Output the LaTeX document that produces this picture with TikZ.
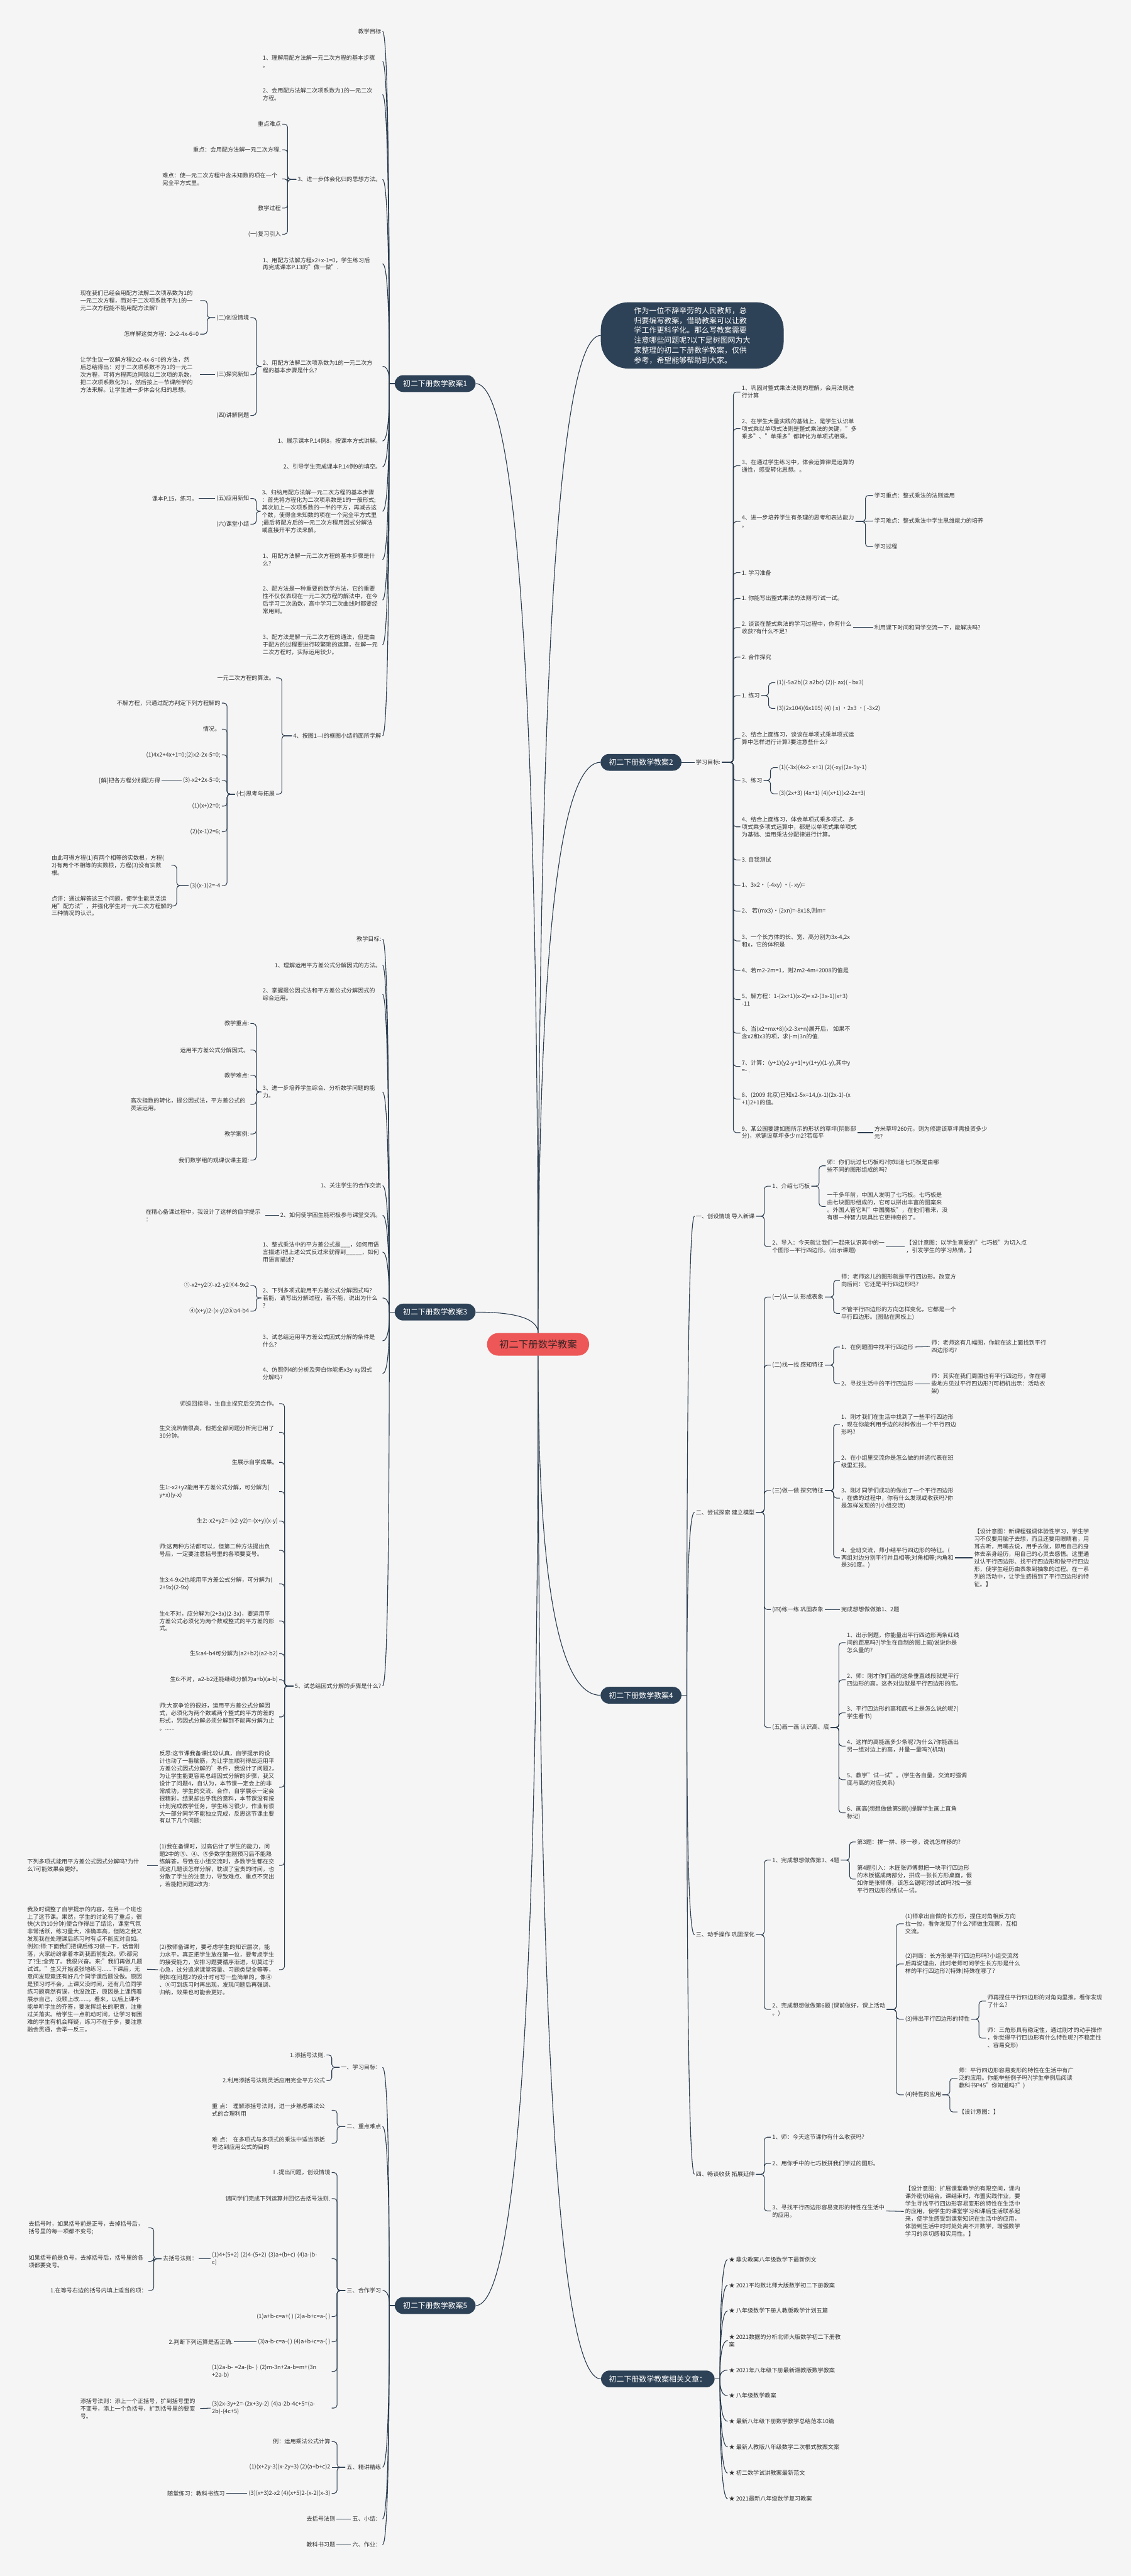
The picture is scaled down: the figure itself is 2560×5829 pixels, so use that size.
\documentclass[tikz,border=0pt]{standalone}
\usepackage{fontspec}
\setmainfont{Noto Sans CJK SC}
\usetikzlibrary{calc}
\definecolor{bgc}{HTML}{F5F5F5}
\definecolor{linec}{HTML}{2C3D50}
\definecolor{nodec}{HTML}{2E4257}
\definecolor{rootc}{HTML}{EE5757}
\definecolor{roottxt}{HTML}{3A2424}
\definecolor{txtc}{HTML}{333333}
\newcommand\fs{\fontsize{13}{17}\selectfont}
\newcommand\bl[3]{\draw[brk] (#1.west) -- (#1.west -| #2) |- (#3.east);}
\newcommand\br[3]{\draw[brk] (#1.east) -- (#1.east -| #2) |- (#3.west);}
\newcommand\cv[2]{\draw[crv] (#1) .. controls ($(#1)!0.667!(#1 |- #2)$) and ($(#2)!0.667!(#1 |- #2)$) .. (#2);}
\tikzset{
  tx/.style={font=\fs, text=txtc, inner xsep=3pt, inner ysep=2pt},
  lnode/.style={tx, anchor=east, align=left},
  lnodew/.style={tx, anchor=east, align=left, text width=#1pt},
  rnode/.style={tx, anchor=west, align=left},
  lvl/.style={fill=nodec, text=white, rounded corners=19pt, minimum width=183pt, minimum height=38pt, font=\fontsize{17}{20}\selectfont, inner sep=0pt},
  rootn/.style={fill=rootc, text=roottxt, rounded corners=25pt, minimum width=231pt, minimum height=51pt, font=\fontsize{22}{26}\selectfont, inner sep=0pt},
  intro/.style={fill=nodec, text=white, rounded corners=62pt, minimum width=414pt, minimum height=150pt, font=\fontsize{17}{22.4}\selectfont, align=left, inner sep=0pt},
  brk/.style={draw=linec, line width=1.5pt, rounded corners=7pt},
  crv/.style={draw=linec, line width=1.6pt}
}
\begin{document}
\begin{tikzpicture}[x=1pt,y=-1pt]
\useasboundingbox (0,0) rectangle (2560,5829);
\fill[bgc] (0,0) rectangle (2560,5829);
% ===== centre and level 1 =====
\node[rootn] (c) at (1218,3042) {初二下册数学教案};
\node[lvl] (n1) at (985,868) {初二下册数学教案1};
\node[lvl] (n3) at (985,2969) {初二下册数学教案3};
\node[lvl] (n5) at (985,5217) {初二下册数学教案5};
\node[lvl] (n2) at (1451,1725) {初二下册数学教案2};
\node[lvl] (n4) at (1451,3836) {初二下册数学教案4};
\node[lvl, minimum width=257pt] (n6) at (1489,5383) {初二下册数学教案相关文章：};
\node[intro] (it) at (1567,759) {作为一位不辞辛劳的人民教师，总\\归要编写教案，借助教案可以让教\\学工作更科学化。那么写教案需要\\注意哪些问题呢?以下是树图网为大\\家整理的初二下册数学教案，仅供\\参考，希望能够帮助到大家。};

% ===== branch 1 =====
\node[lnode] (a1) at (866,71) {教学目标};
\node[lnodew=268] (a2) at (866,139) {1、理解用配方法解一元二次方程的基本步骤\\。};
\node[lnodew=268] (a3) at (866,214) {2、会用配方法解二次项系数为1的一元二次\\方程。};
\node[lnode] (a4) at (866,406) {3、进一步体会化归的思想方法。};
\node[lnode] (a41) at (639,281) {重点难点};
\node[lnode] (a42) at (639,339) {重点：会用配方法解一元二次方程.};
\node[lnodew=268] (a43) at (639,405) {难点：使一元二次方程中含未知数的项在一个\\完全平方式里。};
\node[lnode] (a44) at (639,471) {教学过程};
\node[lnode] (a45) at (639,530) {(一)复习引入};
\node[lnodew=268] (a5) at (866,597) {1、用配方法解方程x2+x-1=0，学生练习后\\再完成课本P.13的"做一做".};
\node[lnodew=268] (a6) at (866,829) {2、用配方法解二次项系数为1的一元二次方\\程的基本步骤是什么?};
\node[lnode] (a61) at (567,719) {(二)创设情境};
\node[lnodew=268] (a611) at (453,680) {现在我们已经会用配方法解二次项系数为1的\\一元二次方程，而对于二次项系数不为1的一\\元二次方程能不能用配方法解?};
\node[lnode] (a612) at (453,756) {怎样解这类方程：2x2-4x-6=0};
\node[lnode] (a62) at (567,848) {(三)探究新知};
\node[lnodew=268] (a621) at (453,848) {让学生议一议解方程2x2-4x-6=0的方法，然\\后总结得出：对于二次项系数不为1的一元二\\次方程，可将方程两边同除以二次项的系数，\\把二次项系数化为1，然后按上一节课所学的\\方法来解。让学生进一步体会化归的思想。};
\node[lnode] (a63) at (567,940) {(四)讲解例题};
\node[lnode] (a7) at (866,998) {1、展示课本P.14例8，按课本方式讲解。};
\node[lnode] (a8) at (866,1056) {2、引导学生完成课本P.14例9的填空。};
\node[lnodew=270] (a9) at (866,1157) {3、归纳用配方法解一元二次方程的基本步骤\\：首先将方程化为二次项系数是1的一般形式;\\其次加上一次项系数的一半的平方，再减去这\\个数，使得含未知数的项在一个完全平方式里\\;最后将配方后的一元二次方程用因式分解法\\或直接开平方法来解。};
\node[lnode] (a91) at (567,1128) {(五)应用新知};
\node[lnode] (a911) at (450,1128) {课本P.15，练习。};
\node[lnode] (a92) at (567,1186) {(六)课堂小结};
\node[lnodew=268] (a10) at (866,1266) {1、用配方法解一元二次方程的基本步骤是什\\么?};
\node[lnodew=268] (a11) at (866,1358) {2、配方法是一种重要的数学方法，它的重要\\性不仅仅表现在一元二次方程的解法中，在今\\后学习二次函数，高中学习二次曲线时都要经\\常用到。};
\node[lnodew=268] (a12) at (866,1459) {3、配方法是解一元二次方程的通法，但是由\\于配方的过程要进行较繁琐的运算，在解一元\\二次方程时，实际运用较少。};
\node[lnode] (a13) at (866,1665) {4、按图1—I的框图小结前面所学解};
\node[lnode] (a131) at (625,1534) {一元二次方程的算法。};
\node[lnode] (a132) at (625,1797) {(七)思考与拓展};
\node[lnode] (b1) at (502,1591) {不解方程，只通过配方判定下列方程解的};
\node[lnode] (b2) at (502,1650) {情况。};
\node[lnode] (b3) at (502,1708) {(1)4x2+4x+1=0;(2)x2-2x-5=0;};
\node[lnode] (b4) at (502,1766) {(3)-x2+2x-5=0;};
\node[lnode] (b41) at (366,1766) {[解]把各方程分别配方得};
\node[lnode] (b5) at (502,1824) {(1)(x+)2=0;};
\node[lnode] (b6) at (502,1882) {(2)(x-1)2=6;};
\node[lnode] (b7) at (502,2004) {(3)(x-1)2=-4};
\node[lnodew=268] (b71) at (388,1958) {由此可得方程(1)有两个相等的实数根，方程(\\2)有两个不相等的实数根，方程(3)没有实数\\根。};
\node[lnodew=268] (b72) at (388,2050) {点评：通过解答这三个问题，使学生能灵活运\\用"配方法"，并强化学生对一元二次方程解的\\三种情况的认识。};

% ===== branch 3 =====
\node[lnode] (d1) at (866,2125) {教学目标:};
\node[lnode] (d2) at (866,2184) {1、理解运用平方差公式分解因式的方法。};
\node[lnodew=268] (d3) at (866,2250) {2、掌握提公因式法和平方差公式分解因式的\\综合运用。};
\node[lnodew=268] (d4) at (866,2471) {3、进一步培养学生综合、分析数学问题的能\\力。};
\node[lnode] (d41) at (567,2316) {教学重点:};
\node[lnode] (d42) at (567,2376) {运用平方差公式分解因式。};
\node[lnode] (d43) at (567,2433) {教学难点:};
\node[lnodew=268] (d44) at (567,2499) {高次指数的转化，提公因式法，平方差公式的\\灵活运用。};
\node[lnode] (d45) at (567,2566) {教学案例:};
\node[lnode] (d46) at (567,2625) {我们数学组的观课议课主题:};
\node[lnode] (d5) at (866,2683) {1、关注学生的合作交流};
\node[lnode] (d6) at (866,2750) {2、如何使学困生能积极参与课堂交流。};
\node[lnodew=268] (d61) at (601,2750) {在精心备课过程中，我设计了这样的自学提示\\：};
\node[lnodew=268] (d7) at (866,2833) {1、整式乘法中的平方差公式是\_\_\_，如何用语\\言描述?把上述公式反过来就得到\_\_\_\_\_，如何\\用语言描述?};
\node[lnodew=268] (d8) at (866,2937) {2、下列多项式能用平方差公式分解因式吗?\\若能，请写出分解过程，若不能，说出为什么\\?};
\node[lnode] (d81) at (567,2909) {①-x2+y2②-x2-y2③4-9x2};
\node[lnode] (d82) at (567,2967) {④(x+y)2-(x-y)2⑤a4-b4};
\node[lnodew=268] (d9) at (866,3034) {3、试总结运用平方差公式因式分解的条件是\\什么?};
\node[lnodew=268] (d10) at (866,3108) {4、仿照例4的分析及旁白你能把x3y-xy因式\\分解吗?};
\node[lnode] (d11) at (866,3815) {5、试总结因式分解的步骤是什么?};
\node[lnode] (e1) at (632,3176) {师巡回指导，生自主探究后交流合作。};
\node[lnodew=268] (e2) at (632,3241) {生交流热情很高，但把全部问题分析完已用了\\30分钟。};
\node[lnode] (e3) at (632,3309) {生展示自学成果。};
\node[lnodew=268] (e4) at (632,3375) {生1:-x2+y2能用平方差公式分解，可分解为(\\y+x)(y-x)};
\node[lnode] (e5) at (632,3442) {生2:-x2+y2=-(x2-y2)=-(x+y)(x-y)};
\node[lnodew=268] (e6) at (632,3508) {师:这两种方法都可以，但第二种方法提出负\\号后，一定要注意括号里的各项要变号。};
\node[lnodew=268] (e7) at (632,3584) {生3:4-9x2也能用平方差公式分解，可分解为(\\2+9x)(2-9x)};
\node[lnodew=268] (e8) at (632,3668) {生4:不对，应分解为(2+3x)(2-3x)，要运用平\\方差公式必须化为两个数或整式的平方差的形\\式。};
\node[lnode] (e9) at (632,3742) {生5:a4-b4可分解为(a2+b2)(a2-b2)};
\node[lnode] (e10) at (632,3801) {生6:不对，a2-b2还能继续分解为a+b)(a-b)};
\node[lnodew=268] (e11) at (632,3885) {师:大家争论的很好，运用平方差公式分解因\\式，必须化为两个数或两个整式的平方的差的\\形式，另因式分解必须分解到不能再分解为止\\。......};
\node[lnodew=268] (e12) at (632,4044) {反思:这节课我备课比较认真，自学提示的设\\计也动了一番脑筋，为让学生顺利得出运用平\\方差公式因式分解的'条件，我设计了问题2，\\为让学生能更容易总结因式分解的步骤，我又\\设计了问题4，自认为，本节课一定会上的非\\常成功，学生的交流、合作，自学展示一定会\\很精彩，结果却出乎我的意料，本节课没有按\\计划完成教学任务，学生练习很少，作业有很\\大一部分同学不能独立完成，反思这节课主要\\有以下几个问题:};
\node[lnodew=268] (e13) at (632,4221) {(1)我在备课时，过高估计了学生的能力，问\\题2中的③、④、⑤多数学生刚预习后不能熟\\练解答，导致在小组交流时，多数学生都在交\\流这几题该怎样分解，耽误了宝贵的时间，也\\分散了学生的注意力，导致难点、重点不突出\\，若能把问题2改为:};
\node[lnodew=268] (e131) at (333,4221) {下列多项式能用平方差公式因式分解吗?为什\\么?可能效果会更好。};
\node[lnodew=268] (e14) at (632,4457) {(2)教师备课时，要考虑学生的知识层次，能\\力水平，真正把学生放在第一位，要考虑学生\\的接受能力，安排习题要循序渐进，切莫过于\\心急，过分追求课堂容量、习题类型全等等，\\例如在问题2的设计时可写一些简单的，像④\\、⑤可到练习时再出现，发现问题后再强调、\\归纳，效果也可能会更好。};
\node[lnodew=268] (e141) at (333,4456) {我及时调整了自学提示的内容，在另一个班也\\上了这节课。果然，学生的讨论有了重点，很\\快(大约10分钟)便合作得出了结论，课堂气氛\\非常活跃，练习量大，准确率高，但随之我又\\发现我在处理课后练习时有点不能应对自如。\\例如:师:下面我们把课后练习做一下，话音刚\\落，大家纷纷拿着本到我面前批改。师:都完\\了?生:全完了。我很兴奋。来:"我们再做几题\\试试。"生又开始紧张地练习......下课后，无\\意间发现竟还有好几个同学课后题没做。原因\\是预习时不会，上课又没时间，还有几位同学\\练习题竟然有误，也没改正，原因是上课慌着\\展示自己，没顾上改......。看来，以后上课不\\能单听学生的齐答，要发挥组长的职责，注重\\过关落实。给学生一点机动时间，让学习有困\\难的学生有机会释疑，练习不在于多，要注意\\融会贯通，会举一反三。};

% ===== branch 5 =====
\node[lnode] (f1) at (866,4678) {一、学习目标：};
\node[lnode] (f11) at (739,4650) {1.添括号法则.};
\node[lnode] (f12) at (739,4708) {2.利用添括号法则灵活应用完全平方公式};
\node[lnode] (f2) at (866,4812) {二、重点难点};
\node[lnodew=268] (f21) at (751,4775) {重 点： 理解添括号法则，进一步熟悉乘法公\\式的合理利用};
\node[lnodew=268] (f22) at (751,4850) {难 点： 在多项式与多项式的乘法中适当添括\\号达到应用公式的目的};
\node[lnode] (f3) at (866,5183) {三、合作学习};
\node[lnode] (f31) at (751,4916) {Ⅰ.提出问题，创设情境};
\node[lnode] (f32) at (751,4975) {请同学们完成下列运算并回忆去括号法则.};
\node[lnodew=268] (f33) at (751,5111) {(1)4+(5+2) (2)4-(5+2) (3)a+(b+c) (4)a-(b-\\c)};
\node[lnode] (f331) at (450,5111) {去括号法则：};
\node[lnodew=268] (f3311) at (336,5041) {去括号时，如果括号前是正号，去掉括号后，\\括号里的每一项都不变号;};
\node[lnodew=268] (f3312) at (336,5117) {如果括号前是负号，去掉括号后，括号里的各\\项都要变号。};
\node[lnode] (f3313) at (336,5183) {1.在等号右边的括号内填上适当的项：};
\node[lnode] (f34) at (751,5242) {(1)a+b-c=a+( ) (2)a-b+c=a-( )};
\node[lnode] (f35) at (751,5299) {(3)a-b-c=a-( ) (4)a+b+c=a-( )};
\node[lnode] (f351) at (530,5299) {2.判断下列运算是否正确.};
\node[lnodew=268] (f36) at (751,5366) {(1)2a-b- =2a-(b- ) (2)m-3n+2a-b=m+(3n\\+2a-b)};
\node[lnodew=268] (f37) at (751,5449) {(3)2x-3y+2=-(2x+3y-2) (4)a-2b-4c+5=(a-\\2b)-(4c+5)};
\node[lnodew=268] (f371) at (453,5450) {添括号法则：添上一个正括号，扩到括号里的\\不变号，添上一个负括号，扩到括号里的要变\\号。};
\node[lnode] (f4) at (866,5583) {五、精讲精练};
\node[lnode] (f41) at (751,5525) {例：运用乘法公式计算};
\node[lnode] (f42) at (751,5583) {(1)(x+2y-3)(x-2y+3) (2)(a+b+c)2};
\node[lnode] (f43) at (751,5642) {(3)(x+3)2-x2 (4)(x+5)2-(x-2)(x-3)};
\node[lnode] (f431) at (512,5642) {随堂练习：教科书练习};
\node[lnode] (f5) at (866,5700) {五、小结：};
\node[lnode] (f51) at (762,5700) {去括号法则};
\node[lnode] (f6) at (866,5758) {六、作业：};
\node[lnode] (f61) at (762,5758) {教科书习题};

% ===== branch 2 =====
\node[rnode] (g0) at (1572,1725) {学习目标:};
\node[rnode] (g1) at (1676,887) {1、巩固对整式乘法法则的理解，会用法则进\\行计算};
\node[rnode] (g2) at (1676,970) {2、在学生大量实践的基础上，是学生认识单\\项式乘以单项式法则是整式乘法的关键，"多\\乘多"、"单乘多"都转化为单项式相乘。};
\node[rnode] (g3) at (1676,1054) {3、在通过学生练习中，体会运算律是运算的\\通性，感受转化思想。。};
\node[rnode] (g4) at (1676,1180) {4、进一步培养学生有条理的思考和表达能力\\。};
\node[rnode] (g41) at (1976,1121) {学习重点：整式乘法的法则运用};
\node[rnode] (g42) at (1976,1179) {学习难点：整式乘法中学生思维能力的培养};
\node[rnode] (g43) at (1976,1237) {学习过程};
\node[rnode] (g5) at (1676,1296) {1. 学习准备};
\node[rnode] (g6) at (1676,1354) {1. 你能写出整式乘法的法则吗?试一试。};
\node[rnode] (g7) at (1676,1420) {2. 谈谈在整式乘法的学习过程中，你有什么\\收获?有什么不足?};
\node[rnode] (g71) at (1976,1420) {利用课下时间和同学交流一下，能解决吗?};
\node[rnode] (g8) at (1676,1487) {2. 合作探究};
\node[rnode] (g9) at (1676,1574) {1. 练习};
\node[rnode] (g91) at (1755,1545) {(1)(-5a2b)(2 a2bc) (2)(- ax)( - bx3)};
\node[rnode] (g92) at (1755,1603) {(3)(2x104)(6x105) (4) ( x) •2x3 •( -3x2)};
\node[rnode] (g10) at (1676,1671) {2、结合上面练习，谈谈在单项式乘单项式运\\算中怎样进行计算?要注意些什么?};
\node[rnode] (g11) at (1676,1766) {3、练习};
\node[rnode] (g111) at (1760,1737) {(1)(-3x)(4x2- x+1) (2)(-xy)(2x-5y-1)};
\node[rnode] (g112) at (1760,1796) {(3)(2x+3) (4x+1) (4)(x+1)(x2-2x+3)};
\node[rnode] (g12) at (1676,1871) {4、结合上面练习，体会单项式乘多项式、多\\项式乘多项式运算中，都是以单项式乘单项式\\为基础、运用乘法分配律进行计算。};
\node[rnode] (g13) at (1676,1946) {3. 自我测试};
\node[rnode] (g14) at (1676,2004) {1、3x2• (-4xy) •(- xy)=};
\node[rnode] (g15) at (1676,2062) {2、 若(mx3)•(2xn)=-8x18,则m=};
\node[rnode] (g16) at (1676,2129) {3、一个长方体的长、宽、高分别为3x-4,2x\\和x，它的体积是};
\node[rnode] (g17) at (1676,2196) {4、若m2-2m=1，则2m2-4m+2008的值是};
\node[rnode] (g18) at (1676,2262) {5、解方程：1-(2x+1)(x-2)= x2-(3x-1)(x+3)\\-11};
\node[rnode] (g19) at (1676,2338) {6、当(x2+mx+8)(x2-3x+n)展开后， 如果不\\含x2和x3的项，求(-m)3n的值.};
\node[rnode] (g20) at (1676,2413) {7、计算：(y+1)(y2-y+1)+y(1+y)(1-y),其中y\\=- .};
\node[rnode] (g21) at (1676,2487) {8、(2009 北京)已知x2-5x=14,(x-1)(2x-1)-(x\\+1)2+1的值。};
\node[rnode] (g22) at (1676,2563) {9、某公园要建如图所示的形状的草坪(阴影部\\分)，求铺设草坪多少m2?若每平};
\node[rnode] (g221) at (1976,2563) {方米草坪260元，则为修建该草坪需投资多少\\元?};

% ===== branch 4 =====
\node[rnode] (h1) at (1572,2752) {一、创设情境 导入新课};
\node[rnode] (h11) at (1745,2684) {1、介绍七巧板};
\node[rnode] (h111) at (1869,2638) {师：你们玩过七巧板吗?你知道七巧板是由哪\\些不同的图形组成的吗?};
\node[rnode] (h112) at (1869,2730) {一千多年前，中国人发明了七巧板。七巧板是\\由七块图形组成的，它可以拼出丰富的图案来\\。外国人管它叫"中国魔板"，在他们看来，没\\有哪一种智力玩具比它更神奇的了。};
\node[rnode] (h12) at (1745,2821) {2、导入：今天就让我们一起来认识其中的一\\个图形—平行四边形。(出示课题)};
\node[rnode] (h121) at (2048,2821) {【设计意图：以学生喜爱的"七巧板"为切入点\\，引发学生的学习热情。】};
\node[rnode] (h2) at (1572,3422) {二、尝试探索 建立模型};
\node[rnode] (h21) at (1745,2935) {(一)认一认 形成表象};
\node[rnode] (h211) at (1901,2897) {师：老师这儿的图形就是平行四边形。改变方\\向后问：它还是平行四边形吗?};
\node[rnode] (h212) at (1901,2972) {不管平行四边形的方向怎样变化，它都是一个\\平行四边形。(图贴在黑板上)};
\node[rnode] (h22) at (1745,3089) {(二)找一找 感知特征};
\node[rnode] (h221) at (1901,3048) {1、在例题图中找平行四边形};
\node[rnode] (h2211) at (2105,3047) {师：老师这有几幅图，你能在这上面找到平行\\四边形吗?};
\node[rnode] (h222) at (1901,3131) {2、寻找生活中的平行四边形};
\node[rnode] (h2221) at (2105,3131) {师：其实在我们周围也有平行四边形，你在哪\\些地方见过平行四边形?(可相机出示：活动衣\\架)};
\node[rnode] (h23) at (1745,3373) {(三)做一做 探究特征};
\node[rnode] (h231) at (1901,3223) {1、刚才我们在生活中找到了一些平行四边形\\，现在你能利用手边的材料做出一个平行四边\\形吗?};
\node[rnode] (h232) at (1901,3307) {2、在小组里交流你是怎么做的并选代表在班\\级里汇报。};
\node[rnode] (h233) at (1901,3390) {3、刚才同学们成功的做出了一个平行四边形\\，在做的过程中，你有什么发现或收获吗?你\\是怎样发现的?(小组交流)};
\node[rnode] (h234) at (1901,3525) {4、全班交流，师小结平行四边形的特征。(\\两组对边分别平行并且相等;对角相等;内角和\\是360度。)};
\node[rnode] (h2341) at (2202,3525) {【设计意图：新课程强调体验性学习，学生学\\习不仅要用脑子去想，而且还要用眼睛看，用\\耳去听，用嘴去说，用手去做，即用自己的身\\体去亲身经历，用自己的心灵去感悟。这里通\\过认平行四边形、找平行四边形和做平行四边\\形，使学生经历由表象到抽象的过程。在一系\\列的活动中，让学生感悟到了平行四边形的特\\征。】};
\node[rnode] (h24) at (1745,3642) {(四)练一练 巩固表象};
\node[rnode] (h241) at (1901,3642) {完成想想做做第1、2题};
\node[rnode] (h25) at (1745,3909) {(五)画一画 认识高、底};
\node[rnode] (h251) at (1914,3717) {1、出示例题，你能量出平行四边形两条红线\\间的距离吗?(学生在自制的图上画)说说你是\\怎么量的?};
\node[rnode] (h252) at (1914,3801) {2、师：刚才你们画的这条垂直线段就是平行\\四边形的高。这条对边就是平行四边形的底。};
\node[rnode] (h253) at (1914,3876) {3、平行四边形的高和底书上是怎么说的呢?(\\学生看书)};
\node[rnode] (h254) at (1914,3951) {4、这样的高能画多少条呢?为什么?你能画出\\另一组对边上的高，并量一量吗?(机动)};
\node[rnode] (h255) at (1914,4027) {5、教学"试一试"。(学生各自量，交流时强调\\底与高的对应关系)};
\node[rnode] (h256) at (1914,4102) {6、画高(想想做做第5题)(提醒学生画上直角\\标记)};
\node[rnode] (h3) at (1572,4378) {三、动手操作 巩固深化};
\node[rnode] (h31) at (1745,4209) {1、完成想想做做第3、4题};
\node[rnode] (h311) at (1937,4168) {第3题：拼一拼、移一移，说说怎样移的?};
\node[rnode] (h312) at (1937,4252) {第4题引入：木匠张师傅想把一块平行四边形\\的木板锯成两部分，拼成一张长方形桌面，假\\如你是张师傅，该怎么锯呢?想试试吗?找一张\\平行四边形的纸试一试。};
\node[rnode] (h32) at (1745,4547) {2、完成想想做做第6题 (课前做好，课上活动\\。)};
\node[rnode] (h321) at (2046,4353) {(1)师拿出自做的长方形，捏住对角相反方向\\拉一拉，看你发现了什么?师做生观察，互相\\交流。};
\node[rnode] (h322) at (2046,4444) {(2)判断：长方形是平行四边形吗?小组交流然\\后再说理由，此时老师可问学生长方形是什么\\样的平行四边形?(特殊)特殊在哪了?};
\node[rnode] (h323) at (2046,4569) {(3)得出平行四边形的特性};
\node[rnode] (h3231) at (2232,4528) {师再捏住平行四边形的对角向里推。看你发现\\了什么?};
\node[rnode] (h3232) at (2232,4612) {师：三角形具有稳定性，通过刚才的动手操作\\，你觉得平行四边形有什么特性呢?(不稳定性\\、容易变形)};
\node[rnode] (h324) at (2046,4740) {(4)特性的应用};
\node[rnode] (h3241) at (2167,4703) {师：平行四边形容易变形的特性在生活中有广\\泛的应用。你能举些例子吗?(学生举例后阅读\\教科书P45"你知道吗?")};
\node[rnode] (h3242) at (2167,4779) {【设计意图：】};
\node[rnode] (h4) at (1572,4920) {四、畅谈收获 拓展延伸};
\node[rnode] (h41) at (1745,4836) {1、师：今天这节课你有什么收获吗?};
\node[rnode] (h42) at (1745,4895) {2、用你手中的七巧板拼我们学过的图形。};
\node[rnode] (h43) at (1745,5003) {3、寻找平行四边形容易变形的特性在生活中\\的应用。};
\node[rnode] (h431) at (2046,5004) {【设计意图：扩展课堂教学的有限空间，课内\\课外密切结合。课结束时，布置实践作业，要\\学生寻找平行四边形容易变形的特性在生活中\\的应用，使学生的课堂学习和课后生活联系起\\来，使学生感受到课堂知识在生活中的应用，\\体验到生活中时时处处离不开数学，增强数学\\学习的亲切感和实用性。】};

% ===== related articles =====
\node[rnode] (k1) at (1647,5113) {★ 鼎尖教案八年级数学下最新例文};
\node[rnode] (k2) at (1647,5171) {★ 2021平均数北师大版数学初二下册教案};
\node[rnode] (k3) at (1647,5229) {★ 八年级数学下册人教版教学计划五篇};
\node[rnode] (k4) at (1647,5296) {★ 2021数据的分析北师大版数学初二下册教\\案};
\node[rnode] (k5) at (1647,5363) {★ 2021年八年级下册最新湘教版数学教案};
\node[rnode] (k6) at (1647,5421) {★ 八年级数学教案};
\node[rnode] (k7) at (1647,5479) {★ 最新八年级下册数学教学总结范本10篇};
\node[rnode] (k8) at (1647,5537) {★ 最新人教版八年级数学二次根式教案文案};
\node[rnode] (k9) at (1647,5596) {★ 初二数学试讲教案最新范文};
\node[rnode] (k10) at (1647,5654) {★ 2021最新八年级数学复习教案};

% ===== connectors: centre =====
\cv{c.north}{it.west}
\cv{c.north}{n1.east}
\cv{c.north}{n2.west}
\cv{c.north}{n3.east}
\cv{c.south}{n4.west}
\cv{c.south}{n5.east}
\cv{c.south}{n6.west}

% level-1 spines
\coordinate (p1) at ($(n1.west)+(-12,0)$);
\coordinate (p3) at ($(n3.west)+(-12,0)$);
\coordinate (p5) at ($(n5.west)+(-12,0)$);
\coordinate (p4) at ($(n4.east)+(12,0)$);
\coordinate (p6) at ($(n6.east)+(12,0)$);
\draw[crv] (n1.west) -- (p1);
\draw[crv] (n3.west) -- (p3);
\draw[crv] (n5.west) -- (p5);
\draw[crv] (n4.east) -- (p4);
\draw[crv] (n6.east) -- (p6);
\foreach \c in {a1,a2,a3,a4,a5,a6,a7,a8,a9,a10,a11,a12,a13} {\cv{p1}{\c.east}}
\foreach \c in {d1,d2,d3,d4,d5,d6,d7,d8,d9,d10,d11} {\cv{p3}{\c.east}}
\foreach \c in {f1,f2,f3,f4,f5,f6} {\cv{p5}{\c.east}}
\foreach \c in {h1,h2,h3,h4} {\cv{p4}{\c.west}}
\foreach \c in {k1,k2,k3,k4,k5,k6,k7,k8,k9,k10} {\cv{p6}{\c.west}}

% spine coordinates
\coordinate (sa4) at (651,0);
\coordinate (sa6) at (580,0);
\coordinate (sa61) at (469,0);
\coordinate (sa13) at (638,0);
\coordinate (sa132) at (514,0);
\coordinate (sb7) at (400,0);
\coordinate (sd4) at (580,0);
\coordinate (sd11) at (644,0);
\coordinate (sf1) at (751,0);
\coordinate (sf2) at (763,0);
\coordinate (sf331) at (348,0);
\coordinate (sg0) at (1660,0);
\coordinate (sg4) at (1959,0);
\coordinate (sg9) at (1740,0);
\coordinate (sg11) at (1744,0);
\coordinate (sh) at (1730,0);
\coordinate (sh11) at (1854,0);
\coordinate (sh21) at (1887,0);
\coordinate (sh25) at (1899,0);
\coordinate (sh31) at (1923,0);
\coordinate (sh32) at (2029,0);
\coordinate (sh323) at (2216,0);
\coordinate (sh324) at (2150,0);

% brackets, left
\foreach \c in {a41,a42,a43,a44,a45} {\bl{a4}{sa4}{\c}}
\foreach \c in {a61,a62,a63} {\bl{a6}{sa6}{\c}}
\foreach \c in {a611,a612} {\bl{a61}{sa61}{\c}}
\draw[brk] (a62.west) -- (a621.east);
\foreach \c in {a91,a92} {\bl{a9}{sa6}{\c}}
\draw[brk] (a91.west) -- (a911.east);
\foreach \c in {a131,a132} {\bl{a13}{sa13}{\c}}
\foreach \c in {b1,b2,b3,b4,b5,b6,b7} {\bl{a132}{sa132}{\c}}
\draw[brk] (b4.west) -- (b41.east);
\foreach \c in {b71,b72} {\bl{b7}{sb7}{\c}}
\foreach \c in {d41,d42,d43,d44,d45,d46} {\bl{d4}{sd4}{\c}}
\draw[brk] (d6.west) -- (d61.east);
\foreach \c in {d81,d82} {\bl{d8}{sd4}{\c}}
\foreach \c in {e1,e2,e3,e4,e5,e6,e7,e8,e9,e10,e11,e12,e13,e14} {\bl{d11}{sd11}{\c}}
\draw[brk] (e13.west) -- (e131.east);
\draw[brk] (e14.west) -- (e141.east);
\foreach \c in {f11,f12} {\bl{f1}{sf1}{\c}}
\foreach \c in {f21,f22} {\bl{f2}{sf2}{\c}}
\foreach \c in {f31,f32,f33,f34,f35,f36,f37} {\bl{f3}{sf2}{\c}}
\draw[brk] (f33.west) -- (f331.east);
\foreach \c in {f3311,f3312,f3313} {\bl{f331}{sf331}{\c}}
\draw[brk] (f35.west) -- (f351.east);
\draw[brk] (f37.west) -- (f371.east);
\foreach \c in {f41,f43} {\bl{f4}{sf2}{\c}}
\draw[brk] (f4.west) -- (f42.east);
\draw[brk] (f43.west) -- (f431.east);
\draw[brk] (f5.west) -- (f51.east);
\draw[brk] (f6.west) -- (f61.east);

% brackets, right
\draw[brk] (n2.east) -- (g0.west);
\foreach \c in {g1,g2,g3,g4,g5,g6,g7,g8,g9,g10,g11,g12,g13,g14,g15,g16,g17,g18,g19,g20,g21,g22} {\br{g0}{sg0}{\c}}
\foreach \c in {g41,g43} {\br{g4}{sg4}{\c}}
\draw[brk] (g4.east) -- (g42.west);
\draw[brk] (g7.east) -- (g71.west);
\foreach \c in {g91,g92} {\br{g9}{sg9}{\c}}
\foreach \c in {g111,g112} {\br{g11}{sg11}{\c}}
\draw[brk] (g22.east) -- (g221.west);
\foreach \c in {h11,h12} {\br{h1}{sh}{\c}}
\foreach \c in {h111,h112} {\br{h11}{sh11}{\c}}
\draw[brk] (h12.east) -- (h121.west);
\foreach \c in {h21,h22,h23,h24,h25} {\br{h2}{sh}{\c}}
\foreach \c in {h211,h212} {\br{h21}{sh21}{\c}}
\foreach \c in {h221,h222} {\br{h22}{sh21}{\c}}
\draw[brk] (h221.east) -- (h2211.west);
\draw[brk] (h222.east) -- (h2221.west);
\foreach \c in {h231,h232,h233,h234} {\br{h23}{sh21}{\c}}
\draw[brk] (h234.east) -- (h2341.west);
\draw[brk] (h24.east) -- (h241.west);
\foreach \c in {h251,h252,h253,h254,h255,h256} {\br{h25}{sh25}{\c}}
\foreach \c in {h31,h32} {\br{h3}{sh}{\c}}
\foreach \c in {h311,h312} {\br{h31}{sh31}{\c}}
\foreach \c in {h321,h322,h323,h324} {\br{h32}{sh32}{\c}}
\foreach \c in {h3231,h3232} {\br{h323}{sh323}{\c}}
\foreach \c in {h3241,h3242} {\br{h324}{sh324}{\c}}
\foreach \c in {h41,h42,h43} {\br{h4}{sh}{\c}}
\draw[brk] (h43.east) -- (h431.west);
\end{tikzpicture}
\end{document}
